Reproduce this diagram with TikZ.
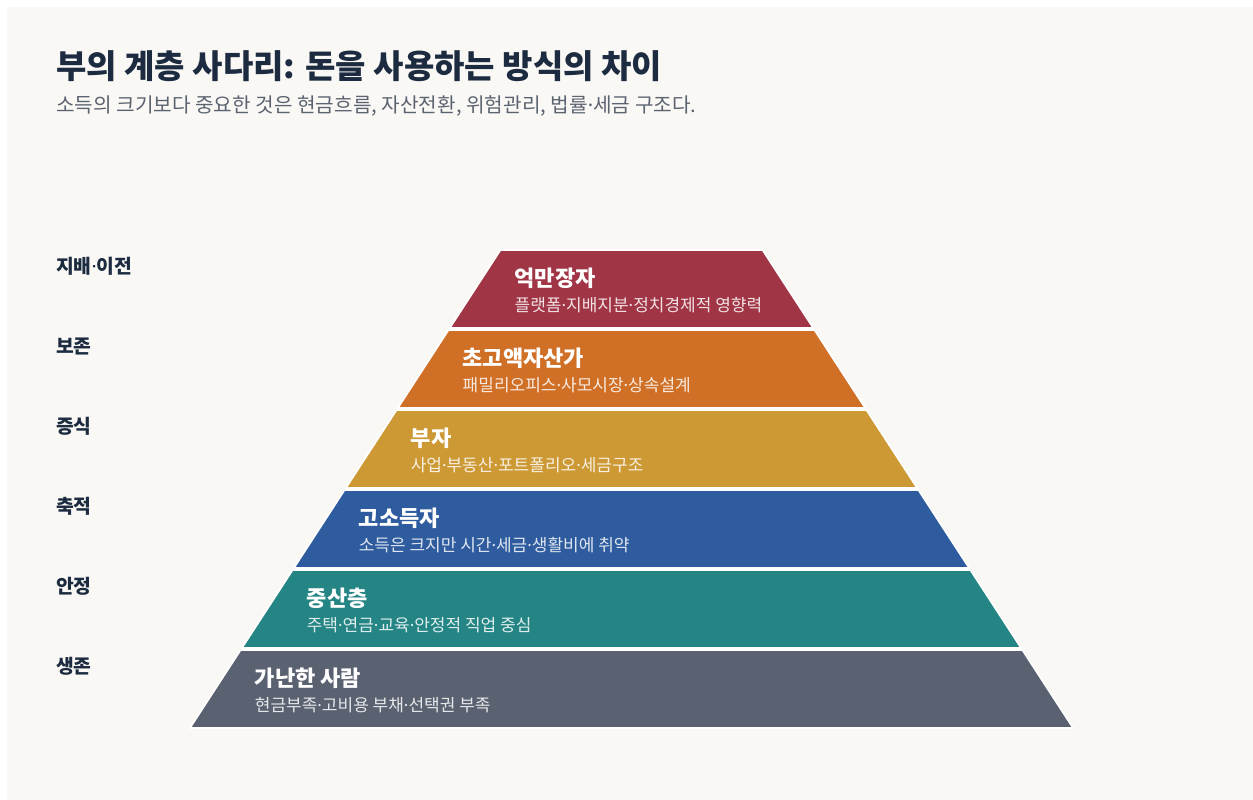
\documentclass[tikz,border=0pt]{standalone}
\usepackage{fontspec}
\setmainfont{Noto Sans CJK KR}
\newfontfamily\dotfont{Noto Sans}
\newcommand\md{{\dotfont ·}}
\definecolor{bgc}{HTML}{F9F8F5}
\definecolor{ink}{HTML}{1C2B40}
\definecolor{subink}{HTML}{5C6370}
\definecolor{cA}{HTML}{A03546}
\definecolor{cB}{HTML}{D07027}
\definecolor{cC}{HTML}{CC9934}
\definecolor{cD}{HTML}{2E5C9E}
\definecolor{cE}{HTML}{258585}
\definecolor{cF}{HTML}{5A6170}
\tikzset{
  layer/.style={draw=white, line width=1.6pt, line join=miter},
  ltitle/.style={anchor=west, text=white, font=\fontsize{22}{25}\selectfont\bfseries, inner sep=0},
  lsub/.style={anchor=west, text=white, text opacity=0.85, font=\fontsize{17}{20}\selectfont, inner sep=0},
  side/.style={anchor=west, text=ink, font=\fontsize{19.3}{22}\selectfont\bfseries, inner sep=0},
}
\begin{document}
\begin{tikzpicture}[x=1pt,y=-1pt]
\useasboundingbox (0,0) rectangle (1253,800);
\fill[white] (0,0) rectangle (1253,800);
\fill[bgc] (7,7) rectangle (1253,800);
\node[anchor=west, text=ink, font=\fontsize{33}{37}\selectfont\bfseries, inner sep=0] (title) at (56,66) {부의 계층 사다리: 돈을 사용하는 방식의 차이};
\node[anchor=west, text=subink, font=\fontsize{20.2}{23}\selectfont, inner sep=0] (subtitle) at (56,106) {소득의 크기보다 중요한 것은 현금흐름, 자산전환, 위험관리, 법률\md 세금 구조다.};
% pyramid: center 631.5, half width = 131 + 0.65*(y-250)
\foreach \i/\c/\t/\s/\lab in {
 0/cA/억만장자/플랫폼\md 지배지분\md 정치경제적 영향력/지배\md 이전,
 1/cB/초고액자산가/패밀리오피스\md 사모시장\md 상속설계/보존,
 2/cC/부자/사업\md 부동산\md 포트폴리오\md 세금구조/증식,
 3/cD/고소득자/소득은 크지만 시간\md 세금\md 생활비에 취약/축적,
 4/cE/중산층/주택\md 연금\md 교육\md 안정적 직업 중심/안정,
 5/cF/가난한 사람/현금부족\md 고비용 부채\md 선택권 부족/생존}{
  \pgfmathsetmacro{\yt}{250+80*\i}
  \pgfmathsetmacro{\yb}{\yt+78}
  \pgfmathsetmacro{\wt}{131+0.6496*(\yt-250)}
  \pgfmathsetmacro{\wb}{131+0.6496*(\yb-250)}
  \filldraw[layer, fill=\c] (631.5-\wt,\yt) -- (631.5+\wt,\yt) -- (631.5+\wb,\yb) -- (631.5-\wb,\yb) -- cycle;
  \node[ltitle] (t\i) at (631.5-\wt+14,\yt+28) {\t};
  \node[lsub] (s\i) at (631.5-\wt+14,\yt+55) {\s};
  \node[side] (l\i) at (56,\yt+16) {\lab};
}
\end{tikzpicture}
\end{document}
